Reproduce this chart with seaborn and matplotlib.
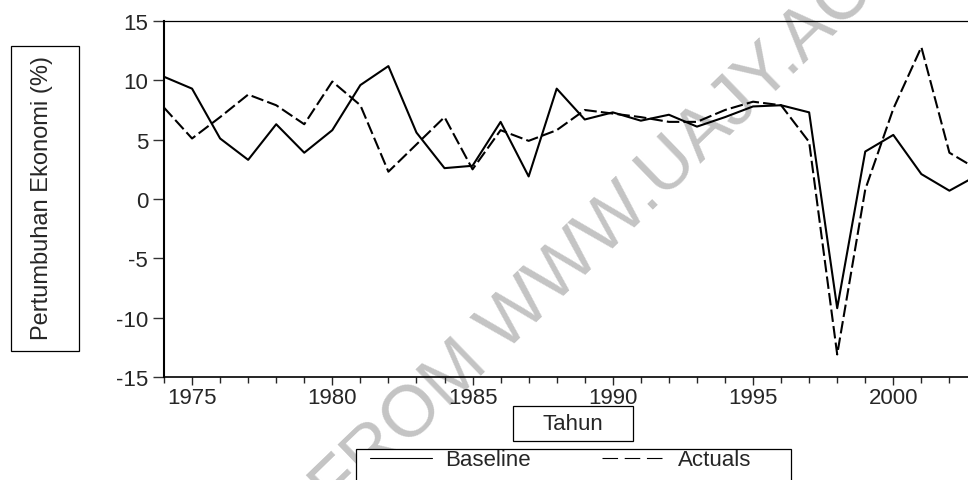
"""
Pertumbuhan ekonomi: Baseline vs Actuals, 1974-2003 (EViews-style line chart).
"""
import numpy as np
import pandas as pd
import matplotlib
matplotlib.use("Agg")
import matplotlib.pyplot as plt
from matplotlib.patches import Rectangle
from matplotlib.ticker import MultipleLocator
import seaborn as sns

# --- data ---
years = list(range(1974, 2004))
baseline = [10.3, 9.3, 5.1, 3.3, 6.3, 3.9, 5.8, 9.6, 11.2, 5.6,
            2.6, 2.8, 6.5, 1.9, 9.3, 6.7, 7.3, 6.6, 7.1, 6.1,
            6.9, 7.8, 7.9, 7.3, -9.2, 4.0, 5.4, 2.1, 0.7, 2.0]
actuals = [7.7, 5.1, 6.9, 8.8, 7.9, 6.3, 9.9, 7.9, 2.3, 4.6,
           6.9, 2.5, 5.8, 4.9, 5.8, 7.5, 7.2, 6.9, 6.5, 6.5,
           7.5, 8.2, 7.9, 4.8, -13.1, 0.8, 7.6, 12.8, 3.9, 2.5]
series_names = ["Baseline", "Actuals"]
y_ticks = [-15, -10, -5, 0, 5, 10, 15]
x_label = "Tahun"
y_label = "Pertumbuhan Ekonomi (%)"
watermark = "FROM WWW.UAJY.AC"

W, H = 968, 481
fx = lambda px: px / W          # pixel -> figure fraction
fy = lambda py: 1 - py / H

sns.set_style("white")
plt.rcParams["font.family"] = ["Liberation Sans", "DejaVu Sans"]
plt.rcParams["axes.unicode_minus"] = False

df = pd.DataFrame({"Tahun": years * 2,
                   "Nilai": baseline + actuals,
                   "Seri": ["Baseline"] * len(years) + ["Actuals"] * len(years)})

fig = plt.figure(figsize=(W / 100, H / 100), dpi=100, facecolor="white")
ax = fig.add_axes([fx(164), fy(378), fx(968) - fx(164), fy(22) - fy(378)])
ax.set_facecolor("none")

sns.lineplot(data=df, x="Tahun", y="Nilai", style="Seri", style_order=series_names,
             dashes={"Baseline": "", "Actuals": (6, 2)}, color="black",
             linewidth=1.5, legend=False, ax=ax)

# axes limits / ticks
ax.set_xlim(1974, 1974 + (968 - 164) / 28.05)
ax.set_ylim(-15, 15)
ax.set_yticks(y_ticks)
ax.xaxis.set_major_locator(MultipleLocator(5))
ax.xaxis.set_minor_locator(MultipleLocator(1))
ax.tick_params(axis="y", direction="out", length=8, width=1, color="#333333",
               labelsize=16, pad=3.5, left=True)
ax.tick_params(axis="x", which="major", direction="out", length=6, width=1,
               labelsize=16, pad=1.5, bottom=True)
ax.tick_params(axis="x", which="minor", direction="out", length=4.3, width=1, bottom=True)
for s, lw in {"left": 1.5, "bottom": 1.2, "top": 0.9}.items():
    ax.spines[s].set_linewidth(lw); ax.spines[s].set_color("black")
ax.spines["right"].set_visible(False)

# axis titles in their own boxes
ax.set_xlabel(x_label, fontsize=16)
ax.xaxis.set_label_coords(fx(573), fy(425), transform=fig.transFigure)
ax.xaxis.label.set_va("center")
ax.set_ylabel(y_label, fontsize=17)
ax.yaxis.set_label_coords(fx(42), fy(198), transform=fig.transFigure)
ax.yaxis.label.set_va("center"); ax.yaxis.label.set_ha("center")

def box(x0, y0, x1, y1):
    r = Rectangle((fx(x0), fy(y1)), fx(x1) - fx(x0), fy(y0) - fy(y1), transform=fig.transFigure,
                  facecolor="white", edgecolor="black", linewidth=0.9, zorder=-0.5)
    fig.add_artist(r)

box(11, 47, 79, 352)      # y label
box(513, 407, 633, 442)   # x label
box(356, 450, 791, 495)   # legend (bottom cut by the figure edge)

leg = ax.legend(ax.get_lines(), series_names, loc="center left", ncol=2,
                bbox_to_anchor=(fx(370), fy(461)), bbox_transform=fig.transFigure,
                frameon=False, fontsize=16, handlelength=2.8, handletextpad=0.6,
                columnspacing=3.2, borderpad=0, borderaxespad=0)
for ln in leg.get_lines():
    ln.set_linewidth(0.8)
leg.get_lines()[1].set_linestyle((0, (14, 6)))

# scan watermark behind everything
fig.text(fx(337), fy(515), watermark, rotation=44, rotation_mode="anchor",
         ha="left", va="baseline", fontsize=52, color="#c4c4c4", zorder=-1)

fig.savefig("out.png", dpi=100, facecolor="white")
